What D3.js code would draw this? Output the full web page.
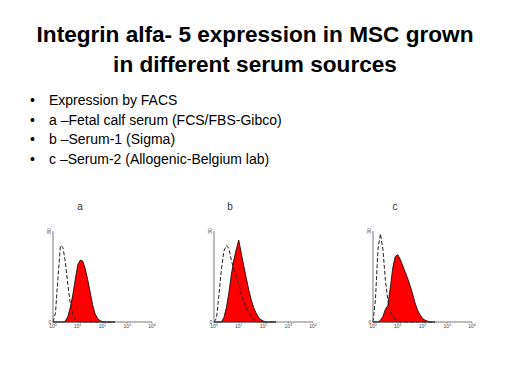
<!DOCTYPE html>
<html lang="en">
<head>
    <meta charset="UTF-8">
    <title>Integrin alfa-5 expression</title>
    <script src="https://cdn.jsdelivr.net/npm/d3@7"></script>
    <style>
        body { margin: 0; background: #fff; }
        svg { display: block; font-family: "Liberation Sans", Arial, sans-serif; }
    </style>
</head>
<body>
<div id="chart-space"></div>

<script>
    // title and bullet text
    var titleLines = ["Integrin alfa- 5 expression in MSC grown", "in different serum sources"];
    var bullets = [
        "Expression by FACS",
        "a \u2013Fetal calf serum (FCS/FBS-Gibco)",
        "b \u2013Serum-1 (Sigma)",
        "c \u2013Serum-2 (Allogenic-Belgium lab)"
    ];

    // histogram bins, log10 of fluorescence
    var logBins = [0, 0.1, 0.2, 0.3, 0.4, 0.5, 0.6, 0.7, 0.8, 0.9, 1.0, 1.1, 1.2,
                   1.3, 1.4, 1.5, 1.6, 1.7, 1.8, 1.9, 2.0, 2.1, 2.2, 2.3, 2.4, 2.5];

    // counts (percent of axis) for control (dashed) and stained (red) cells
    var panelNames = ["a", "b", "c"];
    var controlA = [0, 10, 48, 84, 82, 66, 41, 20, 8, 3, 1, 0, 0, 0, 0, 0, 0, 0, 0, 0, 0, 0, 0, 0, 0, 0];
    var stainedA = [0, 0, 0, 0, 0, 1, 6, 16, 30, 47, 63, 68, 67, 59, 47, 33, 19, 9, 4, 1.5, 0.5, 0, 0, 0, 0, 0];
    var controlB = [0, 4, 30, 58, 78, 84, 81, 68, 58, 50, 42, 31, 23, 16, 11, 6, 3, 1.5, 0.5, 0, 0, 0, 0, 0, 0, 0];
    var stainedB = [0, 0, 0, 0, 5, 16, 32, 52, 68, 80, 90, 76, 62, 49, 36, 25, 16, 10, 5, 2.5, 1, 0, 0, 0, 0, 0];
    var controlC = [0, 25, 80, 97, 80, 46, 24, 11, 6, 3, 1, 0, 0, 0, 0, 0, 0, 0, 0, 0, 0, 0, 0, 0, 0, 0];
    var stainedC = [0, 0, 0, 2, 6, 14, 18, 38, 60, 72, 74, 69, 62, 55, 48, 40, 31, 21, 13, 8, 4, 2, 1, 0, 0, 0];

    var xTickExps = [0, 1, 2, 3, 4];
    var yTopLabels = ["80", "30", "30"];

    var width = 507;
    var height = 382;

    var panels = [
        {name: panelNames[0], control: controlA, stained: stainedA, left: 53, labelDx: 27, yTop: yTopLabels[0]},
        {name: panelNames[1], control: controlB, stained: stainedB, left: 214, labelDx: 16, yTop: yTopLabels[1]},
        {name: panelNames[2], control: controlC, stained: stainedC, left: 373, labelDx: 22, yTop: yTopLabels[2]}
    ];
    var plotW = 99;
    var plotTop = 231;
    var plotBottom = 322;

    var svg = d3.select("#chart-space")
                .append("svg")
                .attr("width", width)
                .attr("height", height);

    // title
    svg.selectAll("text.title")
        .data(titleLines)
        .join("text")
        .attr("class", "title")
        .attr("x", 255)
        .attr("y", function(d, i){ return 42 + i * 30; })
        .attr("text-anchor", "middle")
        .attr("font-weight", "bold")
        .attr("font-size", 22.6)
        .text(function(d){ return d; });

    // bullets
    var bl = svg.selectAll("g.bullet")
        .data(bullets)
        .join("g")
        .attr("class", "bullet")
        .attr("transform", function(d, i){ return "translate(0," + (105 + i * 19.5) + ")"; });
    bl.append("text").attr("x", 30).attr("font-size", 14).text("\u2022");
    bl.append("text").attr("x", 49).attr("font-size", 14).text(function(d){ return d; });

    panels.forEach(function(p){
        var xScale = d3.scaleLinear()
                        .domain([0, 4])
                        .range([p.left, p.left + plotW]);
        var yScale = d3.scaleLinear()
                        .domain([0, 100])
                        .range([plotBottom, plotTop]);

        var g = svg.append("g");

        // panel letter
        g.append("text")
            .attr("x", p.left + p.labelDx)
            .attr("y", 210)
            .attr("text-anchor", "middle")
            .attr("font-size", 10)
            .attr("fill", "#333")
            .text(p.name);

        var area = d3.area()
            .x(function(d, i){ return xScale(logBins[i]); })
            .y0(plotBottom)
            .y1(function(d){ return yScale(d); });
        var line = d3.line()
            .x(function(d, i){ return xScale(logBins[i]); })
            .y(function(d){ return yScale(d); });

        g.append("path")
            .attr("d", area(p.stained))
            .attr("fill", "#ff0000")
            .attr("stroke", "#000")
            .attr("stroke-width", 0.8);

        g.append("path")
            .attr("d", line(p.control))
            .attr("fill", "none")
            .attr("stroke", "#222")
            .attr("stroke-width", 1)
            .attr("stroke-dasharray", "4,2");

        // axes
        g.append("line")
            .attr("x1", xScale(0)).attr("x2", xScale(4))
            .attr("y1", plotBottom).attr("y2", plotBottom)
            .attr("stroke", "#555").attr("stroke-width", 0.8);
        g.append("line")
            .attr("x1", xScale(0)).attr("x2", xScale(0))
            .attr("y1", plotBottom).attr("y2", plotTop)
            .attr("stroke", "#555").attr("stroke-width", 0.8);

        var tl = g.selectAll("text.xt")
            .data(xTickExps)
            .join("text")
            .attr("class", "xt")
            .attr("x", function(d){ return xScale(d); })
            .attr("y", plotBottom + 6)
            .attr("text-anchor", "middle")
            .attr("font-size", 5)
            .attr("fill", "#444");
        tl.append("tspan").text("10");
        tl.append("tspan").attr("dy", -2).attr("font-size", 3.5).text(function(d){ return d; });

        g.selectAll("line.xtick")
            .data(xTickExps)
            .join("line")
            .attr("class", "xtick")
            .attr("x1", function(d){ return xScale(d); })
            .attr("x2", function(d){ return xScale(d); })
            .attr("y1", plotBottom).attr("y2", plotBottom + 1.5)
            .attr("stroke", "#555").attr("stroke-width", 0.6);

        g.append("text")
            .attr("x", xScale(0) - 3)
            .attr("y", plotBottom + 1.5)
            .attr("text-anchor", "middle")
            .attr("font-size", 5)
            .attr("fill", "#444")
            .text("0");
        g.append("text")
            .attr("transform", "translate(" + (xScale(0) - 2) + "," + plotTop + ") rotate(-90)")
            .attr("text-anchor", "middle")
            .attr("font-size", 5)
            .attr("fill", "#444")
            .text(p.yTop);
    });
</script>
</body>
</html>
